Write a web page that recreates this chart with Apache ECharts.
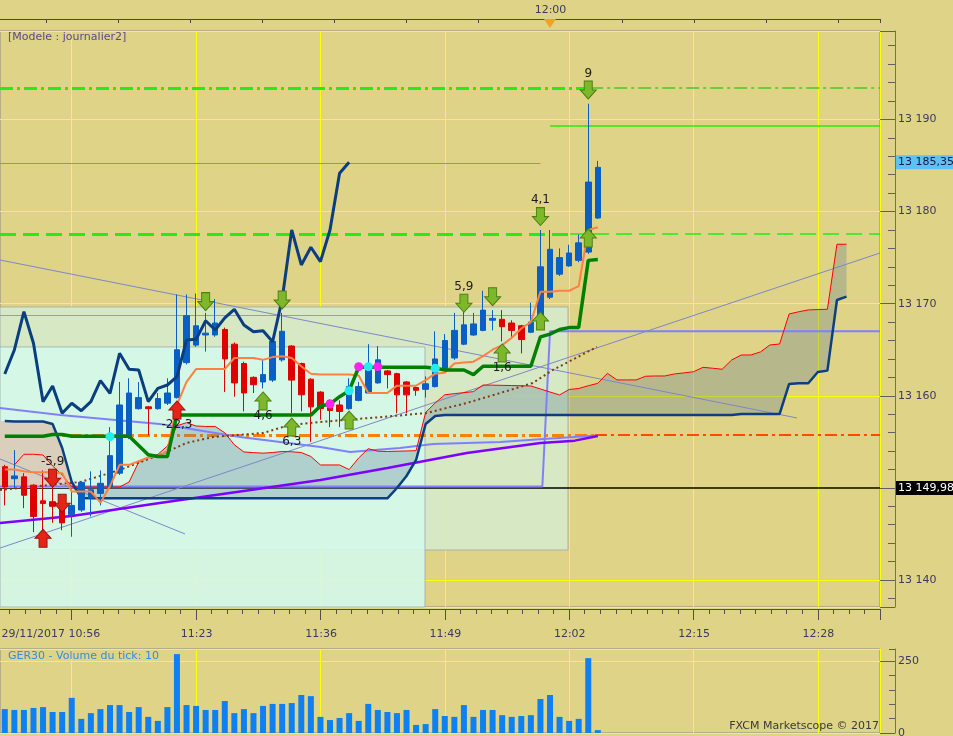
<!DOCTYPE html>
<html lang="fr">
<head>
<meta charset="UTF-8">
<title>GER30 - Modele journalier2</title>
<script src="https://cdn.jsdelivr.net/npm/echarts@6/dist/echarts.min.js"></script>
<style>
  html, body { margin: 0; padding: 0; background: #dfd387; }
  #main { width: 953px; height: 736px; }
</style>
</head>
<body>
<div id="main"></div>
<script>
// ---- données (barres 1 minute, index 0..62) ----
var timeLabels = ['29/11/2017 10:56', '11:23', '11:36', '11:49', '12:02', '12:15', '12:28'];
var topLabel = '12:00';

var opens = [13152.3, 13151.0, 13151.2, 13150.3, 13148.6, 13148.5, 13148.0, 13147.1, 13147.6, 13148.9,
  13149.4, 13150.1, 13151.6, 13155.6, 13158.6, 13158.8, 13158.6, 13159.2, 13159.8, 13163.6,
  13165.5, 13166.6, 13166.6, 13167.2, 13165.6, 13163.5, 13162.0, 13161.5, 13161.7, 13163.9,
  13165.4, 13163.5, 13161.8, 13160.4, 13159.5, 13159.0, 13158.6, 13159.5, 13160.3, 13161.4,
  13162.7, 13162.4, 13161.5, 13160.9, 13160.7, 13161.0, 13162.8, 13164.1, 13165.6, 13166.6,
  13167.1, 13168.2, 13168.3, 13167.9, 13167.6, 13166.9, 13168.6, 13170.7, 13173.2, 13174.1,
  13174.7, 13175.6, 13179.3];
var closes = [13150.1, 13151.3, 13149.2, 13146.9, 13148.3, 13148.0, 13146.2, 13148.1, 13150.6, 13149.8,
  13150.5, 13153.5, 13159.0, 13160.3, 13159.8, 13158.6, 13159.7, 13160.3, 13165.0, 13168.7,
  13167.6, 13166.8, 13167.9, 13164.0, 13161.4, 13160.3, 13161.2, 13162.3, 13165.9, 13167.0,
  13161.7, 13160.1, 13158.8, 13158.6, 13158.4, 13158.3, 13161.0, 13161.0, 13162.8, 13163.9,
  13162.3, 13160.1, 13160.1, 13160.6, 13161.3, 13164.0, 13166.0, 13167.1, 13167.7, 13167.8,
  13169.3, 13168.4, 13167.5, 13167.1, 13166.1, 13168.0, 13174.0, 13175.9, 13175.0, 13175.5,
  13176.6, 13183.2, 13184.8];
var lows = [13148.1, 13150.0, 13147.8, 13145.2, 13145.2, 13146.2, 13145.4, 13144.7, 13147.4, 13146.9,
  13148.1, 13150.0, 13151.4, 13155.3, 13158.5, 13155.7, 13158.5, 13159.0, 13159.7, 13163.4,
  13165.3, 13164.8, 13166.4, 13160.4, 13159.9, 13158.3, 13160.3, 13160.8, 13161.5, 13163.7,
  13158.1, 13158.3, 13155.0, 13157.4, 13156.6, 13156.6, 13158.5, 13159.4, 13160.2, 13161.3,
  13160.8, 13158.1, 13158.1, 13160.0, 13159.8, 13160.9, 13162.7, 13163.9, 13165.5, 13166.5,
  13167.0, 13167.1, 13165.9, 13166.4, 13164.6, 13166.8, 13168.5, 13170.5, 13173.0, 13174.0,
  13174.5, 13175.4, 13179.2];
var highs = [13152.5, 13154.1, 13151.6, 13150.4, 13151.9, 13151.2, 13149.0, 13149.6, 13150.7, 13151.8,
  13151.9, 13156.6, 13161.5, 13161.9, 13161.5, 13158.9, 13160.3, 13161.9, 13171.0, 13171.0,
  13171.1, 13169.0, 13170.5, 13167.4, 13165.8, 13163.7, 13162.1, 13163.9, 13166.2, 13169.0,
  13165.5, 13163.6, 13161.9, 13160.5, 13159.6, 13159.5, 13161.9, 13161.5, 13165.6, 13165.4,
  13162.8, 13162.5, 13161.6, 13161.0, 13162.1, 13167.0, 13166.7, 13169.0, 13169.1, 13169.0,
  13171.4, 13169.3, 13169.3, 13168.2, 13167.7, 13170.1, 13178.0, 13178.0, 13176.0, 13176.4,
  13177.5, 13191.7, 13185.5];
var volumes = [83, 80, 80, 87, 90, 73, 73, 122, 49, 69, 83, 97, 97, 73, 90, 56, 42, 90, 274, 97,
  94, 80, 80, 111, 69, 83, 69, 94, 101, 101, 104, 132, 128, 56, 45, 52, 69, 42, 101, 80,
  73, 69, 80, 28, 31, 83, 59, 56, 97, 56, 80, 80, 62, 56, 59, 62, 118, 132, 56, 42,
  49, 260, 10];

// Ichimoku
var tenkan = [13152.0, 13152.0, 13151.8, 13151.7, 13151.7, 13151.7, 13151.6, 13149.6, 13149.6, 13149.6,
  13148.4, 13150.2, 13152.5, 13152.5, 13152.9, 13153.3, 13153.4, 13154.0, 13159.0, 13161.5,
  13162.9, 13162.9, 13162.9, 13162.9, 13164.1, 13164.1, 13164.1, 13163.9, 13164.2, 13164.3,
  13164.1, 13163.2, 13162.4, 13162.3, 13162.3, 13162.3, 13162.3, 13162.2, 13160.3, 13160.3,
  13160.3, 13161.1, 13161.1, 13161.1, 13161.7, 13162.4, 13162.5, 13163.5, 13163.6, 13163.7,
  13164.3, 13165.0, 13165.5, 13166.3, 13167.3, 13168.0, 13171.3, 13171.3, 13171.4, 13171.4,
  13171.9, 13178.0, 13178.3];
var kijun = [13155.6, 13155.6, 13155.6, 13155.6, 13155.6, 13155.8, 13155.8, 13155.6, 13155.6, 13155.6,
  13155.6, 13155.6, 13155.6, 13155.6, 13154.6, 13153.6, 13153.4, 13153.4, 13157.9, 13157.9,
  13157.9, 13157.9, 13157.9, 13157.9, 13157.9, 13157.9, 13157.9, 13157.9, 13157.9, 13157.9,
  13157.9, 13157.9, 13157.9, 13158.9, 13159.1, 13159.9, 13160.55, 13163.1, 13163.1, 13163.1,
  13163.1, 13163.1, 13163.1, 13163.1, 13163.1, 13163.0, 13162.8, 13162.8, 13162.8, 13162.3,
  13163.2, 13163.2, 13163.2, 13163.2, 13163.2, 13163.2, 13166.4, 13166.7, 13167.2, 13167.4,
  13167.4, 13174.7, 13174.8];
var chikou = [13162.37, 13164.97, 13169.13, 13165.70, 13159.36, 13161.06, 13158.10, 13159.19, 13158.38, 13159.36,
  13161.64, 13160.27, 13164.61, 13162.88, 13162.80, 13159.36, 13160.81, 13161.17, 13162.07, 13166.06,
  13166.13, 13168.15, 13167.14, 13168.45, 13169.39, 13167.69, 13166.96, 13167.07, 13165.87, 13170.5,
  13178.00, 13174.20, 13176.12, 13174.56, 13178.00, 13184.16, 13185.35];
// nuage projeté (index 0..88)
var spanRed = [null, 13152.49, 13153.65, 13153.65, 13153.57, 13152.38, 13151.40, 13150.13, 13150.10, 13150.10,
  13150.10, 13150.10, 13150.10, 13150.64, 13152.81, 13153.30, 13153.63, 13154.55, 13156.75, 13157.08,
  13156.72, 13156.67, 13156.67, 13155.98, 13154.68, 13153.90, 13153.83, 13153.77, 13153.84, 13153.95,
  13153.92, 13153.84, 13153.41, 13152.49, 13152.49, 13152.49, 13151.99, 13153.25, 13154.26, 13153.98,
  13153.95, 13153.98, 13154.01, 13154.04, 13158.19, 13159.22, 13160.11, 13160.23, 13160.34, 13160.45,
  13161.17, 13161.15, 13161.13, 13161.11, 13161.09, 13161.06, 13160.74, 13160.41, 13160.09, 13160.68,
  13160.79, 13161.09, 13161.35, 13162.44, 13161.72, 13161.72, 13161.72, 13162.12, 13162.15, 13162.15,
  13162.37, 13162.48, 13162.61, 13163.09, 13162.99, 13162.88, 13163.89, 13164.43, 13164.43, 13164.76,
  13165.52, 13165.62, 13168.88, 13169.12, 13169.32, 13169.36, 13169.39, 13176.45, 13176.45];
var spanBlue = [13157.26, 13157.21, 13157.21, 13157.21, 13157.21, 13156.94, 13154.33, 13150.64, 13148.90, 13148.87,
  13148.87, 13148.87, 13148.87, 13148.87, 13148.87, 13148.87, 13148.87, 13148.87, 13148.87, 13148.87,
  13148.87, 13148.87, 13148.87, 13148.87, 13148.87, 13148.87, 13148.87, 13148.87, 13148.87, 13148.87,
  13148.87, 13148.87, 13148.87, 13148.87, 13148.87, 13148.87, 13148.87, 13148.87, 13148.87, 13148.87,
  13148.87, 13149.99, 13151.29, 13153.03, 13156.94, 13157.81, 13157.92, 13157.92, 13157.92, 13157.92,
  13157.92, 13157.92, 13157.92, 13157.92, 13157.92, 13157.92, 13157.92, 13157.92, 13157.92, 13157.92,
  13157.92, 13157.92, 13157.92, 13157.92, 13157.92, 13157.92, 13157.92, 13157.92, 13157.92, 13157.92,
  13157.92, 13157.92, 13157.92, 13157.92, 13157.92, 13157.92, 13157.92, 13158.02, 13158.02, 13158.02,
  13158.02, 13158.02, 13161.28, 13161.36, 13161.36, 13162.58, 13162.73, 13170.40, 13170.76];
var beigeFloor = 13150;

// moyennes et tracés [barre, prix]
var maBrown = [[-0.5, 13149.77], [7.9, 13150.64], [12.0, 13151.94], [16.2, 13153.57], [19.0, 13154.88],
  [21.8, 13155.53], [27.0, 13155.96], [29.8, 13156.83], [33.0, 13157.16], [39.5, 13157.70],
  [44.1, 13158.13], [48.3, 13159.22], [51.8, 13160.30], [55.2, 13161.39], [57.3, 13162.80], [61.9, 13165.30]];
var maPurple = [[-0.5, 13146.19], [7.0, 13146.95], [16.2, 13148.36], [33.0, 13150.86], [40.0, 13152.16],
  [48.3, 13153.79], [56.0, 13154.88], [59.6, 13155.13], [62.0, 13155.64]];
var maLavender = [[-0.5, 13158.67], [5.8, 13157.92], [16.2, 13156.94], [24.6, 13155.53], [33.0, 13154.44],
  [36.1, 13153.90], [41.3, 13154.33], [44.8, 13154.77], [51.8, 13154.98], [56.3, 13155.31], [62.0, 13155.69]];
var stepLine = [[-0.5, 13150.15], [56.2, 13150.15], [57.0, 13167.0], [91.5, 13167.0]];
var trendLines = [[-0.5, 13174.74, 82.83, 13157.59], [-0.5, 13143.47, 91.5, 13175.5], [-0.5, 13153.14, 18.84, 13145.0]];
var boxes = [[-0.5, 58.88, 13143.26, 13169.64], [-0.5, 43.93, 13137.07, 13165.3]];

// niveaux horizontaux
var levelValues = [13193.42, 13189.29, 13185.28, 13177.57, 13168.77, 13155.74, 13149.98];
var lastPrice = 13185.35;

// flèches [barre, prix, texte]
var greenDown = [[21, 13170.22, ''], [29, 13170.40, ''], [48, 13170.04, '5,9'], [51, 13170.76, ''], [56, 13179.45, '4,1'], [61, 13193.2, '9']];
var greenUp = [[27, 13159.44, '4,6'], [30, 13156.61, '6,3'], [36, 13157.37, ''], [52, 13164.65, '1,6'], [56, 13168.12, ''], [61, 13177.13, '']];
var redDown = [[5, 13151.04, '-5,9'], [6, 13148.33, '']];
var redUp = [[4, 13144.53, ''], [18, 13158.46, '-22,3']];
var cyanDots = [[11, 13155.56], [36, 13160.55], [38, 13163.16], [45, 13162.99]];
var magentaDots = [[34, 13159.11], [37, 13163.16], [39, 13163.16]];

// ---- mise en page ----
var firstLabelBar = 7, labelEvery = 13, nSlots = 92, SUB = 8;
var FONT = 'DejaVu Sans';
var AXISCOL = '#3a3a62';

function fmt(v, dec) {
  var s = v.toFixed(dec).split('.');
  var ip = s[0].replace(/\B(?=(\d{3})+(?!\d))/g, ' ');
  return dec ? ip + ',' + s[1] : ip;
}
function pairs(arr) { return arr.map(function (v, i) { return [i, v]; }); }

// axe des temps en huitièmes de barre pour caler traits et libellés
var subCats = [];
for (var i = 0; i < nSlots * SUB; i++) subCats.push('');
var major0 = (firstLabelBar + 0.5) * SUB, majorStep = labelEvery * SUB, minorStep = labelEvery;
timeLabels.forEach(function (t, k) { subCats[major0 + k * majorStep] = t; });
function isMajor(idx) { return idx >= major0 && (idx - major0) % majorStep === 0; }
function isMinor(idx) { return ((idx - major0) % minorStep + minorStep) % minorStep === 0; }

// bande du haut (pixels)
var topCats = [];
for (i = 0; i < 880; i++) topCats.push('');
topCats[550] = topLabel;
function isTopTick(idx) { return (idx - 46) % 72 === 0 && idx >= 46; }

var candleData = opens.map(function (o, i) { return [i, o, closes[i], lows[i], highs[i]]; });
var volData = pairs(volumes);

// tronçons continus où une condition est vraie
function runs(test) {
  var out = [], start = -1;
  for (var k = 0; k <= spanBlue.length; k++) {
    var ok = k < spanBlue.length && test(k);
    if (ok && start < 0) start = k;
    if (!ok && start >= 0) { out.push([start, k - 1]); start = -1; }
  }
  return out;
}
var cloudRuns = runs(function (k) { return spanRed[k] != null && spanRed[k] >= spanBlue[k]; });
var beigeRuns = runs(function (k) { return spanBlue[k] > beigeFloor && (spanRed[k] == null || spanRed[k] < spanBlue[k]); });

function bandPolygon(api, s, e, topFn, botFn, color) {
  var pts = [];
  if (s === 0) pts.push(api.coord([-0.5, topFn(0)]));
  for (var k = s; k <= e; k++) pts.push(api.coord([k, topFn(k)]));
  for (k = e; k >= s; k--) pts.push(api.coord([k, botFn(k)]));
  if (s === 0) pts.push(api.coord([-0.5, botFn(0)]));
  return { type: 'polygon', shape: { points: pts }, style: { fill: color } };
}

function arrowSeries(list, dir, fill, stroke) {
  var path = dir === 'down'
    ? 'path://M4,0 L12,0 L12,9 L16,9 L8,18 L0,9 L4,9 Z'
    : 'path://M8,0 L16,9 L12,9 L12,18 L4,18 L4,9 L0,9 Z';
  return {
    type: 'scatter', xAxisIndex: 0, yAxisIndex: 0, z: 8, silent: true,
    symbol: path, symbolSize: [16, 18],
    itemStyle: { color: fill, borderColor: stroke, borderWidth: 1, opacity: 1 },
    label: {
      show: true, position: dir === 'down' ? 'top' : 'bottom', distance: dir === 'down' ? 1 : -1,
      color: '#1a1a1a', fontSize: 12, fontFamily: FONT,
      formatter: function (p) { return p.data[2]; }
    },
    data: list
  };
}

function seg(x1, x2, v, style) {
  return [{ coord: [x1, v], lineStyle: style }, { coord: [x2, v] }];
}

var levelLines = [
  seg(-0.5, 61.2, levelValues[0], { color: '#22ee11', width: 3, type: [13, 4, 3, 4] }),
  seg(61.2, 91.5, levelValues[0], { color: '#44cc22', width: 1.5, type: [13, 4, 3, 4] }),
  seg(57.0, 91.5, levelValues[1], { color: '#22ee11', width: 1.5, type: 'solid' }),
  seg(-0.5, 56.0, levelValues[2], { color: '#33dd11', width: 1, type: 'solid' }),
  seg(-0.5, 59.1, levelValues[3], { color: '#22ee11', width: 3, type: [16, 7] }),
  seg(59.1, 91.5, levelValues[3], { color: '#22ee11', width: 1.5, type: [16, 7] }),
  seg(-0.5, 55.4, levelValues[4], { color: '#33ee11', width: 1, type: 'solid' }),
  seg(-0.5, 61.7, levelValues[5], { color: '#ff8000', width: 3, type: [12, 4, 3, 4] }),
  seg(61.7, 91.5, levelValues[5], { color: '#ff4a00', width: 2, type: [12, 4, 3, 4] }),
  {
    yAxis: levelValues[6], lineStyle: { color: '#000000', width: 1.5, type: 'solid' },
    label: {
      show: true, position: 'end', distance: 16, formatter: fmt(levelValues[6], 2),
      color: '#ffffff', backgroundColor: '#000000', padding: [2, 2, 1, 2], fontSize: 11, fontFamily: FONT
    }
  },
  {
    yAxis: lastPrice, lineStyle: { color: 'rgba(0,0,0,0)', width: 1 },
    label: {
      show: true, position: 'end', distance: 16, formatter: fmt(lastPrice, 2),
      color: '#1a1a40', backgroundColor: '#5cc1f3', padding: [2, 2, 1, 2], fontSize: 11, fontFamily: FONT
    }
  }
];

var boxColors = ['rgba(213,234,203,0.9)', 'rgba(213,248,234,0.9)'];

var series = [
  {
    // rectangles de zone, sous le nuage et les courbes
    type: 'custom', xAxisIndex: 0, yAxisIndex: 0, z: 1, silent: true,
    data: boxes,
    renderItem: function (params, api) {
      var a = api.coord([api.value(0), api.value(3)]);
      var b = api.coord([api.value(1), api.value(2)]);
      return {
        type: 'rect',
        shape: { x: a[0], y: a[1], width: b[0] - a[0], height: b[1] - a[1] },
        style: { fill: boxColors[params.dataIndex], stroke: 'rgba(150,165,170,0.7)', lineWidth: 1 }
      };
    }
  },
  {
    // nuage Ichimoku : remplissage entre les deux spans
    type: 'custom', xAxisIndex: 0, yAxisIndex: 0, z: 2, silent: true,
    data: [[0, beigeFloor]],
    renderItem: function (params, api) {
      var children = [];
      beigeRuns.forEach(function (r) {
        children.push(bandPolygon(api, r[0], r[1],
          function (k) { return spanBlue[k]; }, function () { return beigeFloor; }, '#d9cfbc'));
      });
      cloudRuns.forEach(function (r) {
        children.push(bandPolygon(api, r[0], r[1],
          function (k) { return spanRed[k]; }, function (k) { return spanBlue[k]; }, 'rgba(96,128,150,0.32)'));
      });
      return { type: 'group', children: children };
    }
  },
  {
    name: 'step', type: 'line', xAxisIndex: 0, yAxisIndex: 0, z: 3, silent: true,
    data: stepLine, symbol: 'none', lineStyle: { color: '#8080ff', width: 2 },
    markLine: { silent: true, z: 2, symbol: 'none', label: { show: false }, data: levelLines }
  }
];

trendLines.forEach(function (t) {
  series.push({
    type: 'line', xAxisIndex: 0, yAxisIndex: 0, z: 3, silent: true, symbol: 'none',
    data: [[t[0], t[1]], [t[2], t[3]]], lineStyle: { color: '#7f86c8', width: 1 }
  });
});

series.push(
  { type: 'line', xAxisIndex: 0, yAxisIndex: 0, z: 3, silent: true, symbol: 'none', data: maLavender, lineStyle: { color: '#8080ff', width: 2 } },
  { type: 'line', xAxisIndex: 0, yAxisIndex: 0, z: 3, silent: true, symbol: 'none', data: maPurple, lineStyle: { color: '#8000ff', width: 2.5 } },
  { type: 'line', xAxisIndex: 0, yAxisIndex: 0, z: 3, silent: true, symbol: 'none', data: maBrown, lineStyle: { color: '#7a3f10', width: 2, type: [2, 3] } },
  { type: 'line', xAxisIndex: 0, yAxisIndex: 0, z: 3, silent: true, symbol: 'none', data: pairs(spanRed), lineStyle: { color: '#ff0000', width: 1 } },
  { type: 'line', xAxisIndex: 0, yAxisIndex: 0, z: 3, silent: true, symbol: 'none', data: pairs(spanBlue), lineStyle: { color: '#0d3f80', width: 2.5 } },
  {
    type: 'candlestick', xAxisIndex: 0, yAxisIndex: 0, z: 4, silent: true, barWidth: 6,
    data: candleData,
    itemStyle: { color: '#0a5fc4', color0: '#e00000', borderColor: '#0a5fc4', borderColor0: '#e00000', borderWidth: 1 }
  },
  { type: 'line', xAxisIndex: 0, yAxisIndex: 0, z: 5, silent: true, symbol: 'none', data: pairs(tenkan), lineStyle: { color: '#ff8040', width: 2 } },
  { type: 'line', xAxisIndex: 0, yAxisIndex: 0, z: 5, silent: true, symbol: 'none', data: pairs(kijun), lineStyle: { color: '#008000', width: 3.5 } },
  { type: 'line', xAxisIndex: 0, yAxisIndex: 0, z: 5, silent: true, symbol: 'none', data: pairs(chikou), lineStyle: { color: '#0a3e7e', width: 3 } },
  {
    type: 'scatter', xAxisIndex: 0, yAxisIndex: 0, z: 7, silent: true, symbol: 'circle', symbolSize: 9,
    data: cyanDots, itemStyle: { color: '#22eeee', opacity: 1 }
  },
  {
    type: 'scatter', xAxisIndex: 0, yAxisIndex: 0, z: 7, silent: true, symbol: 'circle', symbolSize: 9,
    data: magentaDots, itemStyle: { color: '#ff22ee', opacity: 1 }
  },
  arrowSeries(greenDown, 'down', '#7cb82a', '#4d7f12'),
  arrowSeries(greenUp, 'up', '#7cb82a', '#4d7f12'),
  arrowSeries(redDown, 'down', '#e52418', '#a01010'),
  arrowSeries(redUp, 'up', '#e52418', '#a01010'),
  {
    type: 'bar', xAxisIndex: 4, yAxisIndex: 1, z: 3, silent: true, barWidth: 6,
    data: volData, itemStyle: { color: '#0f80f2' }
  }
);

var chart = echarts.init(document.getElementById('main'));
var option = {
  animation: false,
  backgroundColor: '#dfd387',
  textStyle: { fontFamily: FONT },
  title: [
    { text: '[Modele : journalier2]', left: 8, top: 32, padding: 0,
      textStyle: { fontSize: 11, fontWeight: 'normal', color: '#5a4a8a', fontFamily: FONT } },
    { text: 'GER30 - Volume du tick: ' + volumes[volumes.length - 1], left: 8, top: 651, padding: 0,
      textStyle: { fontSize: 11, fontWeight: 'normal', color: '#2f8de6', fontFamily: FONT } },
    { text: 'FXCM Marketscope \u00a9 2017', right: 74, top: 721, padding: 0,
      textStyle: { fontSize: 11, fontWeight: 'normal', color: '#3a3a3a', fontFamily: FONT } }
  ],
  grid: [
    { left: 0, right: 73, top: 31, bottom: 129, show: true, borderColor: '#8a8a8a', borderWidth: 1, outerBoundsMode: 'none' },
    { left: 0, right: 73, top: 649, bottom: 3, show: true, borderColor: '#8a8a8a', borderWidth: 1, outerBoundsMode: 'none' }
  ],
  xAxis: [
    { type: 'value', gridIndex: 0, min: -0.5, max: nSlots - 0.5, show: false },
    {
      type: 'category', gridIndex: 0, data: subCats, boundaryGap: true, position: 'bottom', offset: 2,
      axisLine: { show: true, onZero: false, lineStyle: { color: '#505050' } },
      axisTick: { show: true, interval: isMajor, length: 11, lineStyle: { color: '#505050' } },
      axisLabel: {
        interval: isMajor, margin: 20, color: AXISCOL, fontSize: 11, fontFamily: FONT,
        formatter: function (v, idx) { return idx === major0 ? '{d|' + v + '}' : v; },
        rich: { d: { padding: [0, 43, 0, 0], color: AXISCOL, fontSize: 11, fontFamily: FONT } }
      },
      splitLine: { show: true, interval: isMajor, lineStyle: { color: '#ffff00', width: 1 } }
    },
    {
      type: 'category', gridIndex: 0, data: subCats, boundaryGap: true, position: 'bottom', offset: 2,
      axisLine: { show: false, onZero: false },
      axisTick: { show: true, interval: isMinor, length: 5, lineStyle: { color: '#505050' } },
      axisLabel: { show: false }, splitLine: { show: false }
    },
    {
      type: 'category', gridIndex: 0, data: topCats, boundaryGap: true, position: 'top', offset: 12,
      axisLine: { show: true, onZero: false, lineStyle: { color: '#4a4a4a' } },
      axisTick: { show: true, inside: true, interval: isTopTick, length: 4, lineStyle: { color: '#4a4a4a' } },
      axisLabel: {
        interval: function (idx, v) { return v !== ''; }, margin: 3, color: AXISCOL, fontSize: 11, fontFamily: FONT
      },
      splitLine: { show: false }
    },
    { type: 'value', gridIndex: 1, min: -0.5, max: nSlots - 0.5, show: false },
    {
      type: 'category', gridIndex: 1, data: subCats, boundaryGap: true,
      axisLine: { show: true, onZero: false, lineStyle: { color: '#ffff00' } }, axisTick: { show: false }, axisLabel: { show: false },
      splitLine: { show: true, interval: isMajor, lineStyle: { color: '#ffff00', width: 1 } }
    }
  ],
  yAxis: [
    {
      type: 'value', gridIndex: 0, min: 13137.07, max: 13199.6, position: 'right', offset: 15, splitNumber: 6,
      axisLine: { show: true, onZero: false, lineStyle: { color: '#707070' } },
      axisTick: { show: true, inside: true, length: 15, lineStyle: { color: '#606060' } },
      minorTick: { show: true, splitNumber: 5, length: 7, lineStyle: { color: '#606060' } },
      axisLabel: {
        margin: 3, color: AXISCOL, fontSize: 11, fontFamily: FONT, showMinLabel: false, showMaxLabel: false,
        formatter: function (v) { return fmt(v, 0); }
      },
      splitLine: { show: true, lineStyle: { color: '#ffff00', width: 1 } }
    },
    {
      type: 'value', gridIndex: 1, min: 0, max: 291.7, interval: 250, position: 'right', offset: 15,
      axisLine: { show: true, onZero: false, lineStyle: { color: '#707070' } },
      axisTick: { show: true, inside: true, length: 15, lineStyle: { color: '#606060' } },
      axisLabel: { margin: 3, color: AXISCOL, fontSize: 11, fontFamily: FONT, showMaxLabel: false },
      splitLine: { show: true, lineStyle: { color: '#ffff00', width: 1 } }
    },
    {
      type: 'value', gridIndex: 1, min: 0, max: 291.7, interval: 50, position: 'right', offset: 15,
      axisLine: { show: false, onZero: false },
      axisTick: { show: true, inside: true, length: 6, lineStyle: { color: '#606060' } },
      axisLabel: { show: false }, splitLine: { show: false }
    }
  ],
  graphic: [
    { type: 'polygon', shape: { points: [[544, 19], [556, 19], [550, 28]] }, style: { fill: '#f5a020' }, z: 10 }
  ],
  series: series
};
chart.setOption(option);
</script>
</body>
</html>
